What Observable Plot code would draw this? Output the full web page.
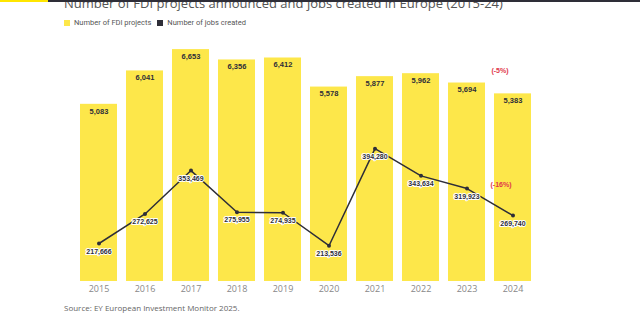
<!DOCTYPE html>
<html><head><meta charset="utf-8">
<script src="https://cdn.jsdelivr.net/npm/d3@7"></script>
<script src="https://cdn.jsdelivr.net/npm/@observablehq/plot@0.6"></script>
<style>
html,body{margin:0;padding:0;background:#fff;width:640px;height:322px;overflow:hidden;}
#wrap{position:relative;width:640px;height:322px;}
.topy{position:absolute;left:0;top:0;width:48px;height:2px;background:#ffe600;z-index:3;}
.topd{position:absolute;left:48px;top:0;width:592px;height:2px;background:#2e2e38;z-index:3;}
#title{position:absolute;left:64px;top:-3px;font:13px "Open Sans",sans-serif;color:#555;line-height:13px;white-space:nowrap;z-index:1;}
#legend{position:absolute;left:64px;top:18px;font:7.5px Roboto,sans-serif;color:#555;display:flex;align-items:center;gap:3px;}
#legend .sw{display:inline-block;width:6px;height:6px;margin-right:1px;}
#chart{position:absolute;left:0;top:30px;}
#source{position:absolute;left:64px;top:302px;font:8px "Open Sans",sans-serif;color:#666;white-space:nowrap;}
</style></head>
<body><div id="wrap">
<div class="topy"></div><div class="topd"></div>
<div id="title">Number of FDI projects announced and jobs created in Europe (2015-24)</div>
<div id="legend"><span class="sw" style="background:#fde74a"></span><span>Number of FDI projects</span><span class="sw" style="background:#2e2e38;margin-left:3px"></span><span>Number of jobs created</span></div>
<div id="chart"></div>
<div id="source">Source: EY European Investment Monitor 2025.</div>
</div>
<script>
const years = ["2015","2016","2017","2018","2019","2020","2021","2022","2023","2024"];
const projects = [5083, 6041, 6653, 6356, 6412, 5578, 5877, 5962, 5694, 5383];
const jobs = [217666, 272625, 353469, 275955, 274935, 213536, 394280, 343634, 319923, 269740];
const annotLabels = ["(-5%)", "(-16%)"];

const yellow = "#fde74a";
const dark = "#2e2e38";
const fmt = d3.format(",");

// secondary (jobs) axis mapped onto the projects axis
const projDomain = [0, 7000];
const jobsDomain = [146900, 601300];
const jobsToProj = d3.scaleLinear().domain(jobsDomain).range(projDomain);

const data = years.map((y, i) => ({year: y, projects: projects[i], jobs: jobs[i], jy: jobsToProj(jobs[i])}));
const last = data[data.length - 1];

const chart = Plot.plot({
  width: 640,
  height: 271,
  marginLeft: 75,
  marginRight: 105,
  marginTop: 7,
  marginBottom: 20,
  style: {fontFamily: "'Liberation Sans', Arial, sans-serif", background: "transparent"},
  x: {domain: years, paddingInner: 0.2, paddingOuter: 0.1, label: null},
  y: {domain: projDomain, axis: null},
  marks: [
    Plot.barY(data, {x: "year", y: "projects", fill: yellow}),
    Plot.text(data, {x: "year", y: "projects", text: d => fmt(d.projects), dy: 7, fill: dark, fontSize: 7.5, fontWeight: "bold"}),
    Plot.line(data, {x: "year", y: "jy", stroke: dark, strokeWidth: 1.5}),
    Plot.dot(data, {x: "year", y: "jy", r: 2, fill: dark}),
    Plot.text(data, {x: "year", y: "jy", text: d => fmt(d.jobs), dy: 8, fill: dark, fontSize: 7, fontWeight: "bold", stroke: "white", strokeWidth: 2, paintOrder: "stroke"}),
    Plot.text([last], {x: "year", y: "projects", text: () => annotLabels[0], dx: -13, dy: -23, fill: "#e0364a", fontSize: 7, fontWeight: "bold"}),
    Plot.text([last], {x: "year", y: "jy", text: () => annotLabels[1], dx: -12, dy: -31, fill: "#e0364a", fontSize: 7, fontWeight: "bold"}),
    Plot.axisX({tickSize: 0, tickPadding: 4, fontSize: 9, fill: "#888", fontFamily: "'Open Sans', sans-serif", label: null})
  ]
});
document.getElementById("chart").appendChild(chart);
</script>
</body></html>
